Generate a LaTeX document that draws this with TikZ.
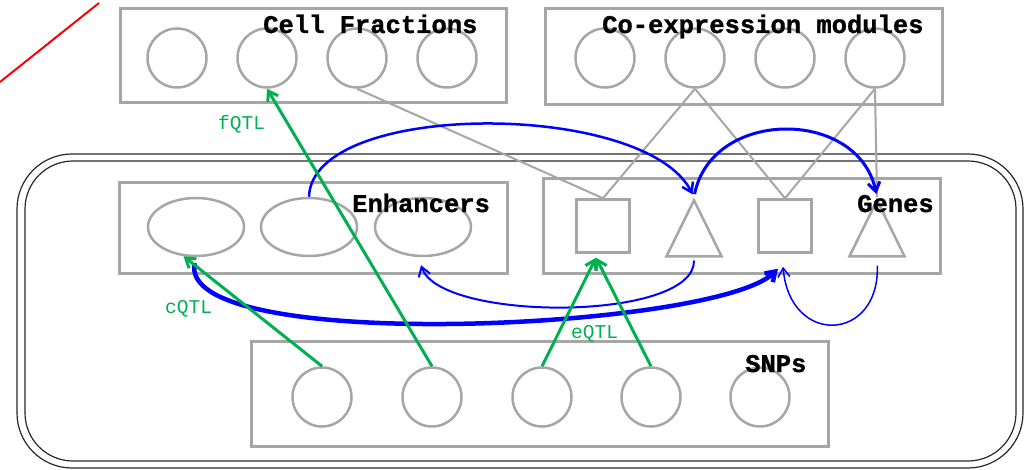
\documentclass[tikz,border=0pt]{standalone}
\usepackage{fontspec}
\setmonofont{Liberation Mono}
\newfontfamily\headfont{Liberation Mono}[BoldFeatures={FakeBold=1.2}]
\usetikzlibrary{arrows.meta,shapes.geometric,calc}

\definecolor{boxgray}{RGB}{166,166,166}
\definecolor{qtlgreen}{RGB}{0,176,80}
\definecolor{linkblue}{RGB}{0,0,255}
\definecolor{framedark}{RGB}{40,40,40}

\begin{document}
\begin{tikzpicture}[x=1pt,y=-1pt,
  panel/.style={draw=boxgray,line width=3pt},
  unit/.style={circle,draw=boxgray,line width=2.5pt,minimum size=59pt,inner sep=0pt},
  oval/.style={ellipse,draw=boxgray,line width=2.5pt,minimum width=96pt,minimum height=58pt,inner sep=0pt},
  gsq/.style={rectangle,draw=boxgray,line width=2.5pt,minimum size=53pt,inner sep=0pt},
  gtri/.style={isosceles triangle,isosceles triangle stretches,shape border rotate=90,
               draw=boxgray,line width=2.5pt,minimum width=55pt,minimum height=56pt,inner sep=0pt,anchor=apex},
  title/.style={font=\headfont\bfseries\fontsize{25.5}{28}\selectfont,anchor=base west,inner sep=0pt},
  qtl/.style={font=\ttfamily\fontsize{19.5}{22}\selectfont,text=qtlgreen,anchor=base west,inner sep=0pt},
  tie/.style={draw=boxgray,line width=2pt},
  qtlarrow/.style={draw=qtlgreen,line width=3pt,-{Straight Barb[length=9pt,width=12pt]}},
  link/.style={draw=linkblue,-{Straight Barb[length=9pt,width=12pt]}},
  frame/.style={draw=framedark,line width=1.2pt}
]
\useasboundingbox (0,0) rectangle (1031,470);

% stray red stroke in the corner
\coordinate (ra) at (0,82);
\coordinate (rb) at (99,3);
\draw[red,line width=2pt] (ra) -- (rb);

% outer double frame around enhancers, genes and SNPs
\draw[frame,rounded corners=55pt] (17,154) rectangle (1023,468);
\draw[frame,rounded corners=48pt] (25,161) rectangle (1016,461);

% panels
\draw[panel] (120,9) rectangle (506,103);
\draw[panel] (545,9) rectangle (942,105);
\draw[panel] (119,183) rectangle (507,274);
\draw[panel] (543,179) rectangle (940,274);
\draw[panel] (251,342) rectangle (828,446);

% cell fractions
\node[unit] (f1) at (177,58) {};
\node[unit] (f2) at (267,58) {};
\node[unit] (f3) at (357,58) {};
\node[unit] (f4) at (447,58) {};

% co-expression modules
\node[unit] (c1) at (605,58) {};
\node[unit] (c2) at (695,58) {};
\node[unit] (c3) at (785,58) {};
\node[unit] (c4) at (875,58) {};

% enhancers
\node[oval] (e1) at (196,227) {};
\node[oval] (e2) at (309,227) {};
\node[oval] (e3) at (423,227) {};

% genes
\node[gsq] (g1) at (603,226) {};
\node[gtri] (g2) at (694,197) {};
\node[gsq] (g3) at (785,226) {};
\node[gtri] (g4) at (877,197) {};

% SNPs
\node[unit] (s1) at (322,397) {};
\node[unit] (s2) at (432,397) {};
\node[unit] (s3) at (542,397) {};
\node[unit] (s4) at (651,397) {};
\node[unit] (s5) at (760,397) {};

% module / fraction memberships
\draw[tie] (f3.south) -- (g1.north);
\draw[tie] (c2.south) -- (g1.north);
\draw[tie] (c2.south) -- (g3.north);
\draw[tie] (c4.south) -- (g3.north);
\draw[tie] (c4.south) -- (g4.apex);

% regulatory links
\draw[link,line width=2.5pt,shorten >=3pt] (e2.north) .. controls (312,100) and (645,100) .. (g2.apex);
\draw[link,line width=3pt,shorten <=3pt,shorten >=3pt] (g2.apex) .. controls (712,108) and (858,108) .. (g4.apex);
\draw[link,line width=4.5pt,shorten <=6pt] (e1.south) .. controls (175,355) and (715,330) .. ($(g3.south)+(-7,15)$);
\draw[link,line width=2pt,shorten <=3pt] (g2.south) .. controls (695,322) and (440,322) .. ($(e3.south)+(-2,8)$);
\draw[link,line width=1.5pt,shorten <=8pt] (g4.south) .. controls (880,342) and (790,347) .. ($(g3.south)+(-2,13)$);

% QTL associations
\draw[qtlarrow] (s1.north) -- (e1.247);
\draw[qtlarrow] (s2.north) -- (f2.south);
\draw[qtlarrow] (s3.north) -- ($(g1.south)+(-7,4)$);
\draw[qtlarrow] (s4.north) -- ($(g1.south)+(-7,4)$);

% panel titles
\node[title] (tf) at (263,33) {Cell Fractions};
\node[title] (tc) at (602,33) {Co-expression modules};
\node[title] (te) at (352,212) {Enhancers};
\node[title] (tg) at (857,212) {Genes};
\node[title] (ts) at (745,372) {SNPs};

% QTL labels
\node[qtl] (lf) at (218,130) {fQTL};
\node[qtl] (lc) at (165,314) {cQTL};
\node[qtl] (le) at (571,339) {eQTL};
\end{tikzpicture}
\end{document}
